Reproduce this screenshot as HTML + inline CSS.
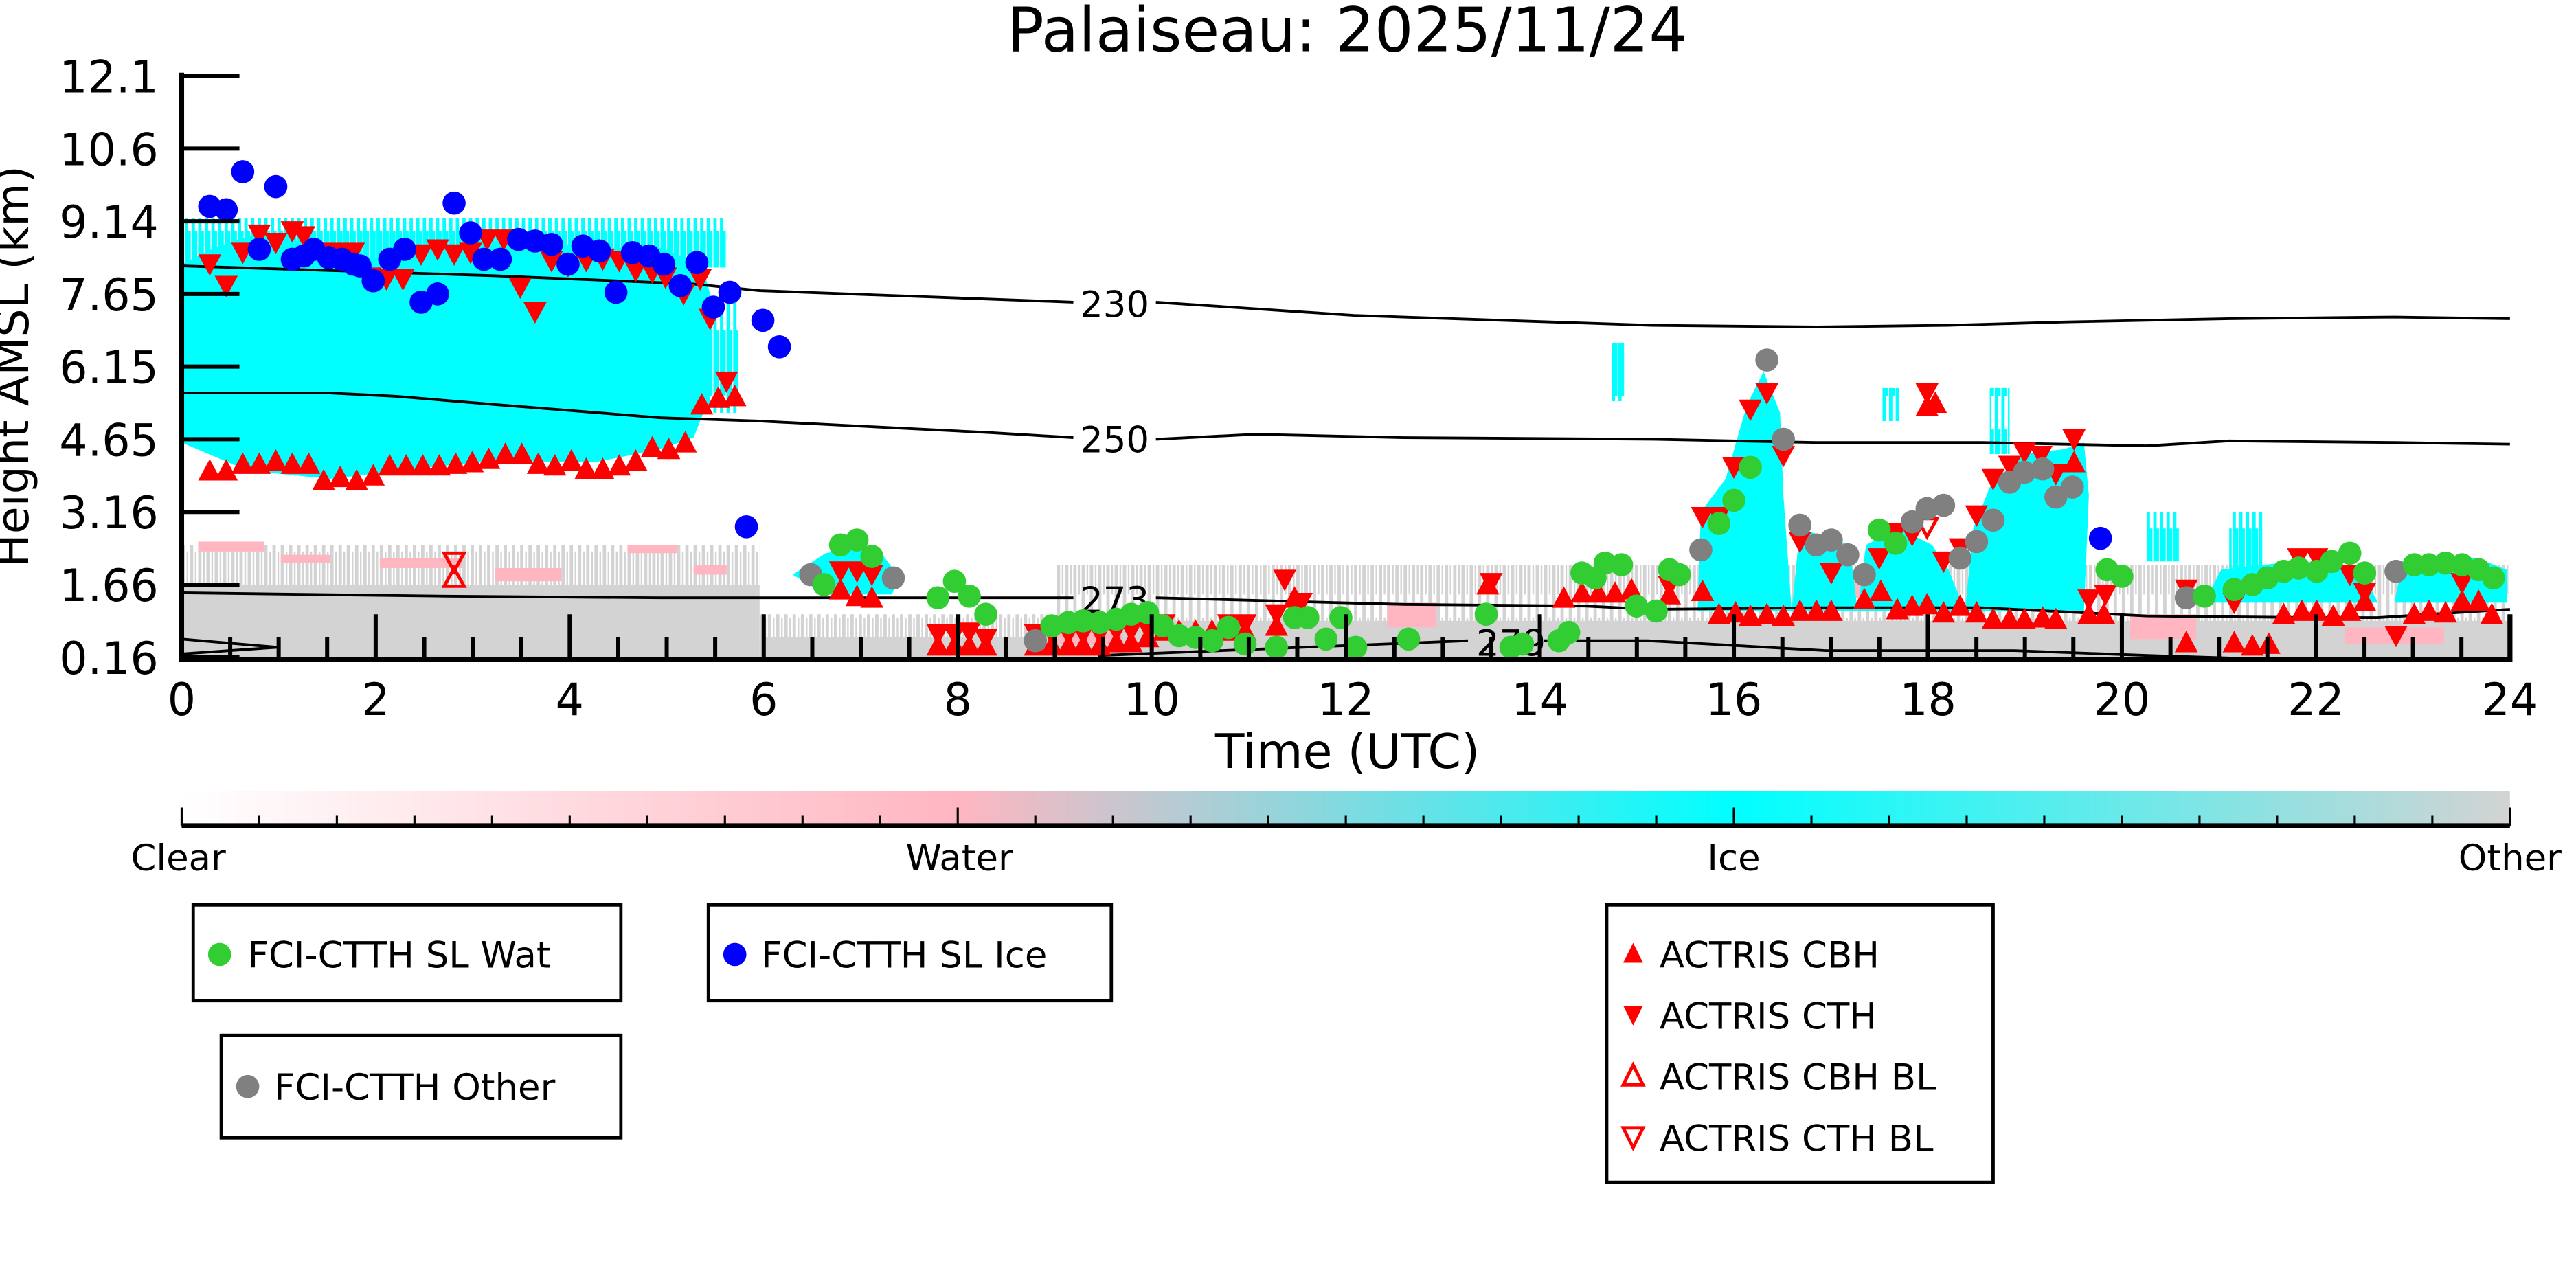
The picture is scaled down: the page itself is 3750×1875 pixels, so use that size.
<!DOCTYPE html>
<html><head><meta charset="utf-8"><style>
html,body{margin:0;padding:0;background:#fff;}
svg{display:block;}
text{font-family:"DejaVu Sans","Liberation Sans",sans-serif;}
</style></head><body>
<svg xmlns="http://www.w3.org/2000/svg" width="3750" height="1875" viewBox="0 0 1560 780">
<defs>
<linearGradient id="cb" x1="0" x2="1" y1="0" y2="0">
<stop offset="0" stop-color="#ffffff"/>
<stop offset="0.333" stop-color="#ffb6c1"/>
<stop offset="0.667" stop-color="#00ffff"/>
<stop offset="1" stop-color="#d3d3d3"/>
</linearGradient>
<pattern id="gs" width="5" height="40" patternUnits="userSpaceOnUse">
<rect x="0" y="0" width="2" height="40" fill="#d3d3d3"/>
<rect x="3" y="14" width="1" height="26" fill="#d3d3d3"/>
</pattern>
<pattern id="cs" width="4" height="60" patternUnits="userSpaceOnUse">
<rect x="0" y="0" width="2" height="60" fill="#00ffff"/>
<rect x="2" y="20" width="1.5" height="40" fill="#00ffff"/>
</pattern>
<clipPath id="pc"><rect x="110" y="46" width="1410" height="354"/></clipPath>
</defs>
<rect width="1560" height="780" fill="#fff"/>
<g clip-path="url(#pc)">
<rect x="110" y="330" width="350" height="26" fill="url(#gs)"/>
<rect x="110" y="354" width="350" height="46" fill="#d3d3d3"/>
<rect x="460" y="372" width="180" height="16" fill="url(#gs)"/>
<rect x="460" y="386" width="180" height="14" fill="#d3d3d3"/>
<rect x="640" y="342" width="880" height="36" fill="url(#gs)"/>
<rect x="640" y="376" width="880" height="24" fill="#d3d3d3"/>
<g fill="#ffb6c1">
<rect x="120" y="328" width="40" height="6"/><rect x="170" y="336" width="30" height="5"/><rect x="230" y="338" width="50" height="6"/>
<rect x="300" y="344" width="40" height="8"/><rect x="380" y="330" width="30" height="5"/><rect x="420" y="342" width="20" height="6"/>
<rect x="1030" y="360" width="20" height="10"/><rect x="1100" y="350" width="30" height="12"/><rect x="1290" y="372" width="40" height="15"/>
<rect x="1420" y="380" width="60" height="10"/><rect x="840" y="365" width="30" height="15"/><rect x="640" y="380" width="40" height="10"/>
</g>
<polygon fill="#00ffff" points="110,160 130,150 160,140 200,152 240,158 280,148 320,145 360,150 400,150 425,160 432,185 430,240 420,265 400,272 360,280 300,279 250,284 200,290 150,285 110,268"/>
<rect x="110" y="132" width="330" height="30" fill="url(#cs)"/>
<rect x="425" y="180" width="22" height="70" fill="url(#cs)"/>
<polygon fill="#00ffff" points="1028,370 1030,310 1045,290 1058,245 1068,225 1078,250 1080,300 1085,370"/>
<polygon fill="#00ffff" points="1085,370 1090,320 1105,325 1120,330 1125,370"/>
<polygon fill="#00ffff" points="1125,370 1130,330 1150,320 1170,330 1180,345 1190,370"/>
<polygon fill="#00ffff" points="1190,370 1195,320 1205,295 1225,275 1250,272 1262,268 1265,300 1262,370"/>
<polygon fill="#00ffff" points="1335,365 1345,345 1390,340 1430,345 1440,365"/>
<polygon fill="#00ffff" points="1450,365 1455,340 1500,338 1518,345 1518,365"/>
<polygon fill="#00ffff" points="480,348 500,335 530,330 545,350 540,360 500,360"/>
<rect x="1140" y="235" width="10" height="20" fill="url(#cs)"/>
<rect x="1205" y="235" width="12" height="40" fill="url(#cs)"/>
<rect x="1300" y="310" width="20" height="30" fill="url(#cs)"/>
<rect x="1350" y="310" width="20" height="35" fill="url(#cs)"/>
<rect x="976" y="208" width="8" height="35" fill="url(#cs)"/>
</g>
<g fill="none" stroke="#000" stroke-width="1.6">
<polyline points="110,161 300,167 420,172 460,176 650,183"/>
<polyline points="700,183 820,191 1000,197 1100,198 1180,197 1250,195 1350,193 1450,192 1520,193"/>
<polyline points="110,238 200,238 240,240 300,245 400,253 460,255 600,262 650,265"/>
<polyline points="700,266 760,263 850,265 1000,266 1100,268 1200,268 1300,270 1350,267 1450,268 1520,269"/>
<polyline points="110,359 270,361 400,362 600,362 650,362"/>
<polyline points="700,362 850,366 960,367 1000,369 1100,368 1200,368 1300,373 1400,374 1440,374 1520,369"/>
<polyline points="110,387 168,392 110,396"/>
<polyline points="665,397 889,388"/>
<polyline points="935,388 998,388 1106,394 1220,394 1302,397 1400,400"/>
</g>
<g font-size="22" text-anchor="middle" fill="#000">
<text x="675" y="192">230</text>
<text x="675" y="274">250</text>
<text x="675" y="371">273</text>
<text x="915" y="397">279</text>
</g>
<!-- markers -->
<path fill="#f00" d="M127,278l7,13h-14zM137,278l7,13h-14zM147,274l7,13h-14zM157,274l7,13h-14zM167,272l7,13h-14zM177,274l7,13h-14zM187,274l7,13h-14zM196,284l7,13h-14zM206,282l7,13h-14zM216,284l7,13h-14zM226,281l7,13h-14zM236,275l7,13h-14zM246,275l7,13h-14zM256,275l7,13h-14zM266,275l7,13h-14zM276,274l7,13h-14zM286,273l7,13h-14zM296,271l7,13h-14zM306,268l7,13h-14zM316,268l7,13h-14zM326,274l7,13h-14zM336,275l7,13h-14zM346,272l7,13h-14zM355,277l7,13h-14zM365,277l7,13h-14zM375,275l7,13h-14zM385,272l7,13h-14zM395,264l7,13h-14zM405,265l7,13h-14zM415,261l7,13h-14zM425,238l7,13h-14zM435,234l7,13h-14zM445,233l7,13h-14z
M509,350l7,13h-14zM519,354l7,13h-14zM528,355l7,13h-14zM568,384l7,13h-14zM578,384l7,13h-14zM587,384l7,13h-14zM597,384l7,13h-14zM627,384l7,13h-14zM637,384l7,13h-14zM647,384l7,13h-14zM656,384l7,13h-14zM666,384l7,13h-14zM676,382l7,13h-14zM685,382l7,13h-14zM695,379l7,13h-14zM705,375l7,13h-14zM714,375l7,13h-14zM724,375l7,13h-14zM734,375l7,13h-14zM744,375l7,13h-14zM754,375l7,13h-14zM773,372l7,13h-14zM784,355l7,13h-14zM788,362l7,13h-14zM901,347l7,13h-14zM947,355l7,13h-14zM958,352l7,13h-14zM968,352l7,13h-14zM978,352l7,13h-14zM988,350l7,13h-14z
M1011,353l7,13h-14zM1031,351l7,13h-14zM1041,365l7,13h-14zM1051,364l7,13h-14zM1060,366l7,13h-14zM1070,365l7,13h-14zM1080,366l7,13h-14zM1090,363l7,13h-14zM1100,363l7,13h-14zM1109,363l7,13h-14zM1129,356l7,13h-14zM1139,351l7,13h-14zM1149,362l7,13h-14zM1158,360l7,13h-14zM1167,359l7,13h-14zM1177,364l7,13h-14zM1187,360l7,13h-14zM1197,364l7,13h-14zM1207,368l7,13h-14zM1217,368l7,13h-14zM1226,368l7,13h-14zM1237,367l7,13h-14zM1245,368l7,13h-14zM1256,273l7,13h-14zM1265,365l7,13h-14zM1274,365l7,13h-14zM1324,382l7,13h-14zM1353,382l7,13h-14zM1364,384l7,13h-14zM1374,383l7,13h-14zM1383,365l7,13h-14zM1394,363l7,13h-14zM1403,363l7,13h-14zM1413,366l7,13h-14zM1423,363l7,13h-14zM1432,357l7,13h-14zM1462,365l7,13h-14zM1471,363l7,13h-14zM1481,364l7,13h-14zM1491,357l7,13h-14zM1501,357l7,13h-14zM1509,365l7,13h-14zM1167,239l7,13h-14zM1172,237l7,13h-14z"/>
<path fill="#f00" d="M120,154h14l-7,13zM130,167h14l-7,13zM140,147h14l-7,13zM150,136h14l-7,13zM160,141h14l-7,13zM170,134h14l-7,13zM177,137h14l-7,13zM187,147h14l-7,13zM197,147h14l-7,13zM207,147h14l-7,13zM217,162h14l-7,13zM227,163h14l-7,13zM237,163h14l-7,13zM248,148h14l-7,13zM258,145h14l-7,13zM268,148h14l-7,13zM278,147h14l-7,13zM288,139h14l-7,13zM298,139h14l-7,13zM308,168h14l-7,13zM317,183h14l-7,13zM327,152h14l-7,13zM337,155h14l-7,13zM348,152h14l-7,13zM358,151h14l-7,13zM368,152h14l-7,13zM378,158h14l-7,13zM388,159h14l-7,13zM396,162h14l-7,13zM407,172h14l-7,13zM417,163h14l-7,13zM423,187h14l-7,13zM433,225h14l-7,13z
M502,340h14l-7,13zM512,340h14l-7,13zM521,342h14l-7,13zM561,378h14l-7,13zM571,378h14l-7,13zM580,377h14l-7,13zM590,381h14l-7,13zM620,378h14l-7,13zM630,378h14l-7,13zM640,378h14l-7,13zM649,378h14l-7,13zM659,378h14l-7,13zM669,376h14l-7,13zM678,376h14l-7,13zM688,375h14l-7,13zM698,372h14l-7,13zM737,372h14l-7,13zM747,372h14l-7,13zM766,366h14l-7,13zM771,345h14l-7,13zM781,359h14l-7,13zM896,347h14l-7,13z
M1004,349h14l-7,13zM1024,307h14l-7,13zM1034,307h14l-7,13zM1043,277h14l-7,13zM1053,242h14l-7,13zM1063,232h14l-7,13zM1073,270h14l-7,13zM1083,322h14l-7,13zM1102,341h14l-7,13zM1131,332h14l-7,13zM1141,317h14l-7,13zM1151,318h14l-7,13zM1160,232h14l-7,13zM1170,334h14l-7,13zM1180,326h14l-7,13zM1190,306h14l-7,13zM1200,284h14l-7,13zM1210,276h14l-7,13zM1219,268h14l-7,13zM1229,270h14l-7,13zM1238,281h14l-7,13zM1249,260h14l-7,13zM1258,357h14l-7,13zM1268,354h14l-7,13zM1317,351h14l-7,13zM1346,359h14l-7,13zM1385,332h14l-7,13zM1396,332h14l-7,13zM1416,342h14l-7,13zM1425,353h14l-7,13zM1444,379h14l-7,13zM1484,347h14l-7,13z"/>
<path fill="none" stroke="#f00" stroke-width="2" d="M275,344l6,11h-12zM269,335h12l-6,11zM1161,314h12l-6,11z"/>
<g fill="#808080">
<circle cx="491" cy="348" r="7"/><circle cx="541" cy="350" r="7"/><circle cx="627" cy="388" r="7"/><circle cx="1070" cy="218" r="7"/><circle cx="1080" cy="266" r="7"/><circle cx="1030" cy="333" r="7"/><circle cx="1090" cy="318" r="7"/><circle cx="1100" cy="330" r="7"/><circle cx="1109" cy="327" r="7"/><circle cx="1119" cy="336" r="7"/><circle cx="1129" cy="348" r="7"/><circle cx="1158" cy="316" r="7"/><circle cx="1167" cy="308" r="7"/><circle cx="1177" cy="306" r="7"/><circle cx="1187" cy="338" r="7"/><circle cx="1197" cy="328" r="7"/><circle cx="1207" cy="315" r="7"/><circle cx="1217" cy="292" r="7"/><circle cx="1226" cy="286" r="7"/><circle cx="1237" cy="284" r="7"/><circle cx="1245" cy="301" r="7"/><circle cx="1255" cy="295" r="7"/><circle cx="1324" cy="362" r="7"/><circle cx="1451" cy="346" r="7"/>
</g>
<g fill="#32cd32">
<circle cx="499" cy="354" r="7"/><circle cx="509" cy="330" r="7"/><circle cx="519" cy="327" r="7"/><circle cx="528" cy="337" r="7"/><circle cx="568" cy="362" r="7"/><circle cx="578" cy="352" r="7"/><circle cx="587" cy="361" r="7"/><circle cx="597" cy="372" r="7"/><circle cx="637" cy="379" r="7"/><circle cx="647" cy="377" r="7"/><circle cx="656" cy="376" r="7"/><circle cx="666" cy="377" r="7"/><circle cx="676" cy="375" r="7"/><circle cx="685" cy="372" r="7"/><circle cx="695" cy="371" r="7"/><circle cx="704" cy="379" r="7"/><circle cx="714" cy="385" r="7"/><circle cx="724" cy="386" r="7"/><circle cx="734" cy="388" r="7"/><circle cx="744" cy="380" r="7"/><circle cx="754" cy="390" r="7"/><circle cx="773" cy="392" r="7"/><circle cx="784" cy="374" r="7"/><circle cx="792" cy="374" r="7"/><circle cx="803" cy="387" r="7"/><circle cx="812" cy="374" r="7"/><circle cx="821" cy="392" r="7"/><circle cx="853" cy="387" r="7"/><circle cx="900" cy="372" r="7"/><circle cx="915" cy="392" r="7"/><circle cx="922" cy="390" r="7"/><circle cx="944" cy="388" r="7"/><circle cx="950" cy="383" r="7"/><circle cx="958" cy="347" r="7"/><circle cx="966" cy="350" r="7"/><circle cx="972" cy="341" r="7"/><circle cx="982" cy="342" r="7"/><circle cx="991" cy="367" r="7"/><circle cx="1003" cy="370" r="7"/><circle cx="1017" cy="348" r="7"/>
<circle cx="1011" cy="345" r="7"/><circle cx="1041" cy="317" r="7"/><circle cx="1050" cy="303" r="7"/><circle cx="1060" cy="283" r="7"/><circle cx="1138" cy="321" r="7"/><circle cx="1148" cy="329" r="7"/><circle cx="1276" cy="345" r="7"/><circle cx="1285" cy="349" r="7"/><circle cx="1335" cy="361" r="7"/><circle cx="1353" cy="357" r="7"/><circle cx="1364" cy="354" r="7"/><circle cx="1373" cy="350" r="7"/><circle cx="1383" cy="346" r="7"/><circle cx="1392" cy="344" r="7"/><circle cx="1403" cy="346" r="7"/><circle cx="1412" cy="340" r="7"/><circle cx="1423" cy="335" r="7"/><circle cx="1432" cy="347" r="7"/><circle cx="1462" cy="342" r="7"/><circle cx="1471" cy="342" r="7"/><circle cx="1481" cy="341" r="7"/><circle cx="1491" cy="342" r="7"/><circle cx="1501" cy="345" r="7"/><circle cx="1510" cy="350" r="7"/>
</g>
<g fill="#0000ff">
<circle cx="127" cy="125" r="7"/><circle cx="137" cy="127" r="7"/><circle cx="147" cy="104" r="7"/><circle cx="157" cy="151" r="7"/><circle cx="167" cy="113" r="7"/><circle cx="177" cy="157" r="7"/><circle cx="184" cy="155" r="7"/><circle cx="190" cy="151" r="7"/><circle cx="199" cy="156" r="7"/><circle cx="207" cy="157" r="7"/><circle cx="214" cy="160" r="7"/><circle cx="218" cy="161" r="7"/><circle cx="226" cy="170" r="7"/><circle cx="236" cy="157" r="7"/><circle cx="245" cy="151" r="7"/><circle cx="255" cy="183" r="7"/><circle cx="265" cy="178" r="7"/><circle cx="275" cy="123" r="7"/><circle cx="285" cy="141" r="7"/><circle cx="293" cy="157" r="7"/><circle cx="303" cy="157" r="7"/><circle cx="314" cy="145" r="7"/><circle cx="324" cy="146" r="7"/><circle cx="334" cy="148" r="7"/><circle cx="344" cy="160" r="7"/><circle cx="353" cy="149" r="7"/><circle cx="363" cy="152" r="7"/><circle cx="373" cy="177" r="7"/><circle cx="383" cy="153" r="7"/><circle cx="393" cy="155" r="7"/><circle cx="402" cy="160" r="7"/><circle cx="412" cy="173" r="7"/><circle cx="422" cy="159" r="7"/><circle cx="432" cy="186" r="7"/><circle cx="442" cy="177" r="7"/><circle cx="462" cy="194" r="7"/><circle cx="472" cy="210" r="7"/><circle cx="452" cy="319" r="7"/><circle cx="1272" cy="326" r="7"/>
</g>
<!-- axes -->
<g stroke="#000" stroke-width="3" fill="none">
<line x1="110" y1="44" x2="110" y2="401"/>
<line x1="109" y1="399.5" x2="1521" y2="399.5"/>
<line x1="1520" y1="372" x2="1520" y2="401"/>
</g>
<path stroke="#000" stroke-width="2.5" fill="none" d="M110,46h35M110,90h35M110,134h35M110,178h35M110,222h35M110,266h35M110,310h35M110,354h35M110,398h35
M139.4,386V399M168.75,386V399M198.1,386V399M227.5,372V399M256.9,386V399M286.25,386V399M315.6,386V399M345,372V399M374.4,386V399M403.75,386V399M433.1,386V399M462.5,372V399M491.9,386V399M521.25,386V399M550.6,386V399M580,372V399M609.4,386V399M638.75,386V399M668.1,386V399M697.5,372V399M726.9,386V399M756.25,386V399M785.6,386V399M815,372V399M844.4,386V399M873.75,386V399M903.1,386V399M932.5,372V399M961.9,386V399M991.25,386V399M1020.6,386V399M1050,372V399M1079.4,386V399M1108.75,386V399M1138.1,386V399M1167.5,372V399M1196.9,386V399M1226.25,386V399M1255.6,386V399M1285,372V399M1314.4,386V399M1343.75,386V399M1373.1,386V399M1402.5,372V399M1431.9,386V399M1461.25,386V399M1490.6,386V399"/>
<g font-size="27" text-anchor="end" fill="#000">
<text x="96" y="56">12.1</text><text x="96" y="100">10.6</text><text x="96" y="144">9.14</text>
<text x="96" y="188">7.65</text><text x="96" y="232">6.15</text><text x="96" y="276">4.65</text>
<text x="96" y="320">3.16</text><text x="96" y="364">1.66</text><text x="96" y="408">0.16</text>
</g>
<g font-size="27" text-anchor="middle" fill="#000">
<text x="110" y="433">0</text><text x="227.5" y="433">2</text><text x="345" y="433">4</text><text x="462.5" y="433">6</text>
<text x="580" y="433">8</text><text x="697.5" y="433">10</text><text x="815" y="433">12</text><text x="932.5" y="433">14</text>
<text x="1050" y="433">16</text><text x="1167.5" y="433">18</text><text x="1285" y="433">20</text><text x="1402.5" y="433">22</text><text x="1520" y="433">24</text>
</g>
<text x="816" y="465" font-size="29" text-anchor="middle">Time (UTC)</text>
<text x="816" y="31" font-size="37" text-anchor="middle">Palaiseau: 2025/11/24</text>
<text transform="translate(17,222) rotate(-90)" font-size="27" text-anchor="middle">Height AMSL (km)</text>
<!-- colorbar -->
<rect x="110" y="479" width="1410" height="21" fill="url(#cb)"/>
<line x1="110" y1="500" x2="1520" y2="500" stroke="#000" stroke-width="3"/>
<path stroke="#000" stroke-width="1.3" d="M110,489V500M157,494V500M204,494V500M251,494V500M298,494V500M345,494V500M392,494V500M439,494V500M486,494V500M533,494V500M580,489V500M627,494V500M674,494V500M721,494V500M768,494V500M815,494V500M862,494V500M909,494V500M956,494V500M1003,494V500M1050,489V500M1097,494V500M1144,494V500M1191,494V500M1238,494V500M1285,494V500M1332,494V500M1379,494V500M1426,494V500M1473,494V500M1520,489V500"/>
<g font-size="22" text-anchor="middle" fill="#000">
<text x="108" y="527">Clear</text><text x="581" y="527">Water</text><text x="1050" y="527">Ice</text><text x="1520" y="527">Other</text>
</g>
<g fill="#fff" stroke="#000" stroke-width="2">
<rect x="117" y="548" width="259" height="58"/>
<rect x="429" y="548" width="244" height="58"/>
<rect x="134" y="627" width="242" height="62"/>
<rect x="973" y="548" width="234" height="168"/>
</g>
<g font-size="22" fill="#000">
<circle cx="133" cy="578" r="7" fill="#32cd32"/><text x="150" y="586">FCI-CTTH SL Wat</text>
<circle cx="445" cy="578" r="7" fill="#0000ff"/><text x="461" y="586">FCI-CTTH SL Ice</text>
<circle cx="150" cy="658" r="7" fill="#808080"/><text x="166" y="666">FCI-CTTH Other</text>
<polygon points="989,571 995,583 983,583" fill="#f00"/><text x="1005" y="586">ACTRIS CBH</text>
<polygon points="983,609 995,609 989,621" fill="#f00"/><text x="1005" y="623">ACTRIS CTH</text>
<polygon points="989,645 995,657 983,657" fill="none" stroke="#f00" stroke-width="2"/><text x="1005" y="660">ACTRIS CBH BL</text>
<polygon points="983,683 995,683 989,695" fill="none" stroke="#f00" stroke-width="2"/><text x="1005" y="697">ACTRIS CTH BL</text>
</g>
</svg>
</body></html>
